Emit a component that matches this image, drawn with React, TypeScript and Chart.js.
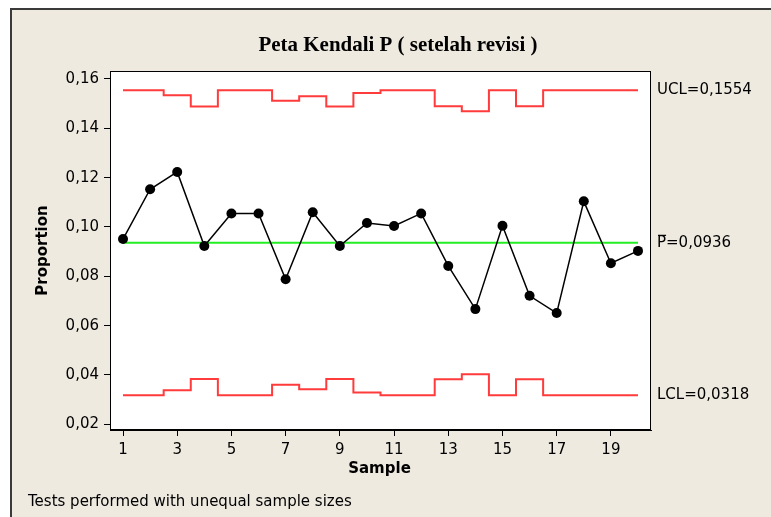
import React, { useEffect, useRef } from 'react';
import { Chart, registerables } from 'chart.js';

Chart.register(...registerables);

// ---- data ----
const samples = [1, 2, 3, 4, 5, 6, 7, 8, 9, 10, 11, 12, 13, 14, 15, 16, 17, 18, 19, 20];
const proportions = [
  0.0951, 0.1153, 0.1223, 0.0923, 0.1055, 0.1055, 0.0788, 0.1060, 0.0923, 0.1016,
  0.1004, 0.1055, 0.0842, 0.0667, 0.1005, 0.0721, 0.0651, 0.1104, 0.0853, 0.0903,
];
const uclValues = [
  0.1554, 0.1554, 0.1534, 0.1488, 0.1554, 0.1554, 0.1512, 0.1530, 0.1488, 0.1543,
  0.1554, 0.1554, 0.1489, 0.1469, 0.1554, 0.1489, 0.1554, 0.1554, 0.1554, 0.1554,
];
const lclValues = [
  0.0318, 0.0318, 0.0338, 0.0384, 0.0318, 0.0318, 0.0360, 0.0342, 0.0384, 0.0329,
  0.0318, 0.0318, 0.0383, 0.0403, 0.0318, 0.0383, 0.0318, 0.0318, 0.0318, 0.0318,
];
const centerValue = 0.0936;
const uclNominal = 0.1554;
const lclNominal = 0.0318;
const yTickValues = [0.02, 0.04, 0.06, 0.08, 0.1, 0.12, 0.14, 0.16];
const xTickValues = [1, 3, 5, 7, 9, 11, 13, 15, 17, 19];
const titleText = 'Peta Kendali P ( setelah revisi )';
const xTitle = 'Sample';
const yTitle = 'Proportion';
const footnote = 'Tests performed with unequal sample sizes';
const uclText = 'UCL=0,1554';
const centerText = '=0,0936';
const lclText = 'LCL=0,0318';

const FONT = '"DejaVu Sans", Tahoma, sans-serif';
const BEIGE = '#EEEAE0';

const fmt = (v: number) => v.toFixed(2).replace('.', ',');

const decorPlugin = {
  id: 'decor',
  beforeDraw(chart: any) {
    const { ctx, chartArea } = chart;
    ctx.save();
    ctx.fillStyle = '#ffffff';
    ctx.fillRect(0, 0, chart.width, chart.height);
    ctx.fillStyle = BEIGE;
    ctx.fillRect(11, 9, chart.width, chart.height);
    ctx.fillStyle = '#3a3a3a';
    ctx.fillRect(10, 8, chart.width, 2);
    ctx.fillRect(10, 8, 2, chart.height);
    ctx.fillStyle = '#ffffff';
    ctx.fillRect(chartArea.left, chartArea.top, chartArea.right - chartArea.left, chartArea.bottom - chartArea.top);
    ctx.restore();
  },
  afterDraw(chart: any) {
    const { ctx, chartArea } = chart;
    const yScale = chart.scales.y;
    ctx.save();
    // plot frame
    ctx.strokeStyle = '#000';
    ctx.lineWidth = 1;
    ctx.strokeRect(
      Math.round(chartArea.left) + 0.5,
      Math.round(chartArea.top) + 0.5,
      Math.round(chartArea.right - chartArea.left) - 1,
      Math.round(chartArea.bottom - chartArea.top) - 1
    );

    // title
    ctx.fillStyle = '#000';
    ctx.font = 'bold 21px "Liberation Serif", serif';
    const tw = ctx.measureText(titleText).width;
    ctx.save();
    ctx.translate(398, 46);
    ctx.scale(279 / tw, 1);
    ctx.textAlign = 'center';
    ctx.textBaseline = 'middle';
    ctx.fillText(titleText, 0, 0);
    ctx.restore();

    // axis titles
    ctx.font = 'bold 15px ' + FONT;
    ctx.textAlign = 'center';
    ctx.textBaseline = 'middle';
    ctx.fillText(xTitle, (chartArea.left + chartArea.right) / 2 - 1, 469);
    ctx.save();
    ctx.translate(43, (chartArea.top + chartArea.bottom) / 2);
    ctx.rotate(-Math.PI / 2);
    ctx.fillText(yTitle, 0, 0);
    ctx.restore();

    // right-hand limit labels
    ctx.font = '15px ' + FONT;
    ctx.textAlign = 'left';
    ctx.textBaseline = 'middle';
    const lx = chartArea.right + 6;
    ctx.fillText(uclText, lx, yScale.getPixelForValue(uclNominal));
    ctx.fillText(lclText, lx, yScale.getPixelForValue(lclNominal));
    const cy = yScale.getPixelForValue(centerValue);
    ctx.fillText('P', lx, cy);
    const pw = ctx.measureText('P').width;
    ctx.fillText(centerText, lx + pw, cy);
    ctx.fillRect(lx + 1, cy - 8, pw - 1, 1.2);

    // footnote
    ctx.fillText(footnote, 28, 502);
    ctx.restore();
  },
};

export default function App() {
  const canvasRef = useRef<HTMLCanvasElement | null>(null);

  useEffect(() => {
    const canvas = canvasRef.current;
    if (!canvas) return;
    const pts = (vals: number[]) => samples.map((s, i) => ({ x: s, y: vals[i] }));
    const chart = new Chart(canvas, {
      type: 'line',
      data: {
        datasets: [
          {
            label: 'P',
            data: pts(proportions),
            borderColor: '#000',
            backgroundColor: '#000',
            borderWidth: 1.5,
            pointRadius: 5,
            pointBackgroundColor: '#000',
            pointBorderWidth: 0,
            order: 0,
          },
          {
            label: 'UCL',
            data: pts(uclValues),
            borderColor: '#ff3b3b',
            borderWidth: 2,
            pointRadius: 0,
            stepped: 'middle',
            order: 2,
          },
          {
            label: 'LCL',
            data: pts(lclValues),
            borderColor: '#ff3b3b',
            borderWidth: 2,
            pointRadius: 0,
            stepped: 'middle',
            order: 2,
          },
          {
            label: 'CL',
            data: [
              { x: samples[0], y: centerValue },
              { x: samples[samples.length - 1], y: centerValue },
            ],
            borderColor: '#22ee22',
            borderWidth: 2,
            pointRadius: 0,
            order: 1,
          },
        ],
      },
      options: {
        responsive: false,
        animation: false,
        devicePixelRatio: 1,
        layout: { padding: { left: 0, top: 71, right: 120, bottom: 57 } },
        plugins: { legend: { display: false }, tooltip: { enabled: false }, title: { display: false } },
        scales: {
          x: {
            type: 'linear',
            min: 0.52,
            max: 20.48,
            afterBuildTicks: (scale: any) => {
              scale.ticks = xTickValues.map((v) => ({ value: v }));
            },
            afterFit: (scale: any) => {
              scale.height = 30;
            },
            ticks: {
              color: '#000',
              font: { family: FONT, size: 15 },
              padding: 5,
              maxRotation: 0,
              autoSkip: false,
              callback: (v: any) => String(v),
            },
            grid: {
              display: true,
              drawOnChartArea: false,
              drawTicks: true,
              tickLength: 6,
              color: '#000',
              lineWidth: 1,
            },
            border: { display: true, color: '#000', width: 1 },
          },
          y: {
            type: 'linear',
            min: 0.01769,
            max: 0.16324,
            afterBuildTicks: (scale: any) => {
              scale.ticks = yTickValues.map((v) => ({ value: v }));
            },
            afterFit: (scale: any) => {
              scale.width = 110;
            },
            ticks: {
              color: '#000',
              font: { family: FONT, size: 15 },
              padding: 5,
              autoSkip: false,
              callback: (v: any) => fmt(Number(v)),
            },
            grid: {
              display: true,
              drawOnChartArea: false,
              drawTicks: true,
              tickLength: 6,
              color: '#000',
              lineWidth: 1,
            },
            border: { display: true, color: '#000', width: 1 },
          },
        },
      },
      plugins: [decorPlugin],
    } as any);
    return () => chart.destroy();
  }, []);

  return (
    <div style={{ position: 'absolute', left: 0, top: 0, width: 771, height: 517 }}>
      <canvas ref={canvasRef} width={771} height={517} style={{ display: 'block', width: 771, height: 517 }} />
    </div>
  );
}
